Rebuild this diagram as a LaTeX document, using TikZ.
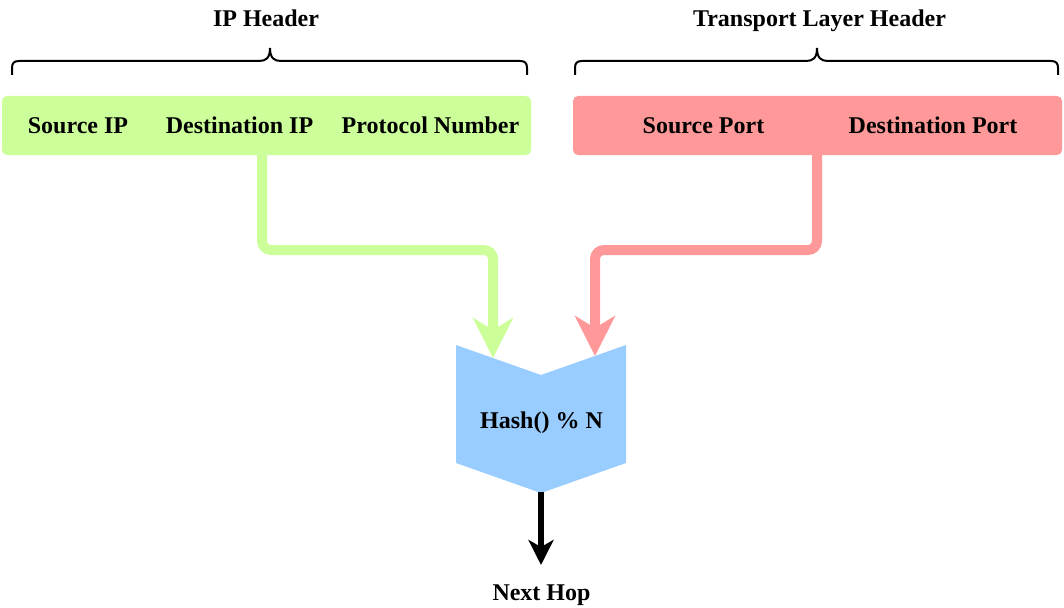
\documentclass[tikz,border=0pt]{standalone}
\usepackage{fontspec}
\setmainfont{Liberation Serif}
\usetikzlibrary{arrows.meta}
\definecolor{ipgreen}{HTML}{CCFF99}
\definecolor{tlred}{HTML}{FF9999}
\definecolor{hashblue}{HTML}{99CCFF}
\begin{document}
\begin{tikzpicture}[x=1pt,y=-1pt,
  lbl/.style={font=\fontsize{24}{27}\selectfont\bfseries, inner sep=0pt, text=black, text height=16pt, text depth=0pt},
  field/.style={rounded corners=5pt, minimum height=59pt, inner sep=0pt},
  bracepath/.style={line width=2pt, black},
  flowg/.style={line width=10pt, ipgreen, rounded corners=9pt, -{Stealth[length=40pt,width=40pt,inset=12pt]}},
  flowr/.style={line width=10pt, tlred, rounded corners=9pt, -{Stealth[length=40pt,width=40pt,inset=12pt]}},
  flowk/.style={line width=5.5pt, black, -{Stealth[length=25pt,width=25pt,inset=7pt]}}]
\useasboundingbox (0,0) rectangle (1064,607);

% header boxes
\node[field, fill=ipgreen, minimum width=529pt] (ipbox) at (266.5,125.5) {};
\node[field, fill=tlred, minimum width=489pt] (tlbox) at (817.5,125.5) {};

\node[lbl] (srcip) at (78,125.5) {Source IP};
\node[lbl] (dstip) at (239.5,125.5) {Destination IP};
\node[lbl] (proto) at (430.5,125.5) {Protocol Number};
\node[lbl] (srcport) at (703.5,125.5) {Source Port};
\node[lbl] (dstport) at (933,125.5) {Destination Port};

% header titles
\node[lbl] (iphdr) at (266,18.5) {IP Header};
\node[lbl] (tlhdr) at (819.5,18.5) {Transport Layer Header};

% braces
\draw[bracepath] (12,75) -- (12,68) .. controls (12,63) and (14,61) .. (19,61) -- (259,61) .. controls (266,61) and (270,58) .. (270,48) .. controls (270,58) and (274,61) .. (281,61) -- (520,61) .. controls (525,61) and (527,63) .. (527,68) -- (527,75);
\draw[bracepath] (575,75) -- (575,68) .. controls (575,63) and (577,61) .. (582,61) -- (806,61) .. controls (813,61) and (817,58) .. (817,48) .. controls (817,58) and (821,61) .. (828,61) -- (1051,61) .. controls (1056,61) and (1058,63) .. (1058,68) -- (1058,75);

% hash block
\fill[hashblue] (456,345) -- (541,375) -- (626,345) -- (626,463) -- (541,493) -- (456,463) -- cycle;
\node[lbl] (hash) at (541.5,420.5) {Hash() \% N};
\coordinate (gin) at (493,358);
\coordinate (rin) at (595,356);
\coordinate (hout) at (541,492);

% connectors
\coordinate (gout) at (262,155);
\coordinate (rout) at (817,155);
\draw[flowg] (gout) -- (262,250) -- (493,250) -- (gin);
\draw[flowr] (rout) -- (817,250) -- (595,250) -- (rin);

\node[lbl] (next) at (541.5,592) {Next Hop};
\coordinate (nin) at (541,565);
\draw[flowk] (hout) -- (nin);
\end{tikzpicture}
\end{document}
